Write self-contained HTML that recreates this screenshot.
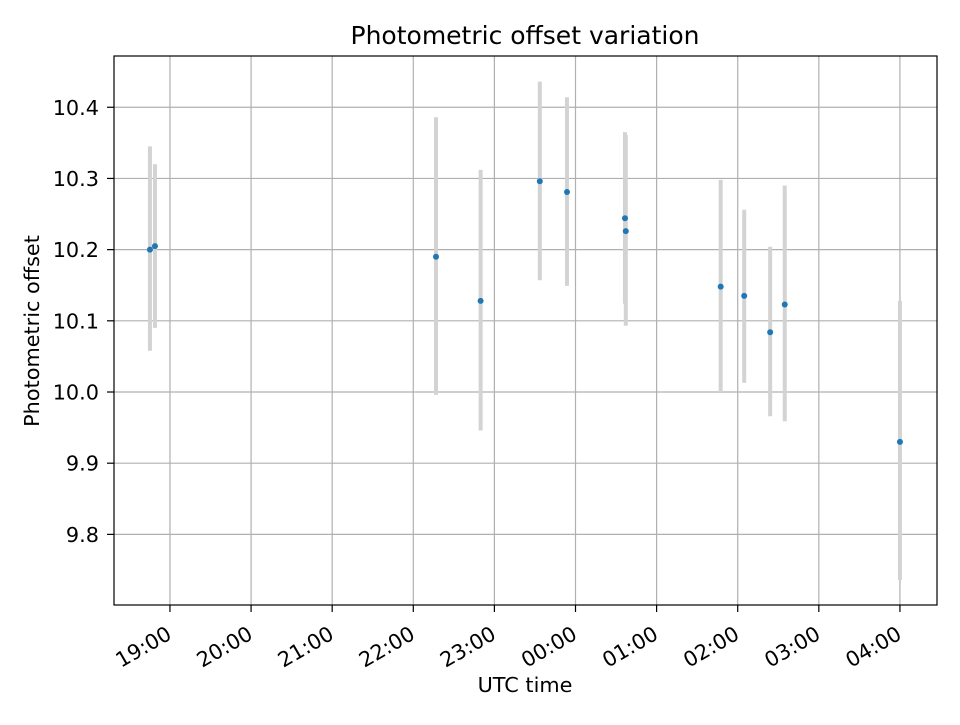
<!DOCTYPE html>
<html><head><meta charset="utf-8"><style>
body{margin:0;background:#fff;font-family:"Liberation Sans","DejaVu Sans",sans-serif;}
svg text{font-family:"DejaVu Sans","Liberation Sans",sans-serif;}
</style></head><body>
<svg id="chart" width="960" height="720" xmlns="http://www.w3.org/2000/svg">
<rect width="960" height="720" fill="#fff"/>
<text x="525" y="44" font-size="25" text-anchor="middle">Photometric offset variation</text>
<text x="525" y="692" font-size="20.8" text-anchor="middle">UTC time</text>
<text transform="translate(39,331) rotate(-90)" font-size="20.8" text-anchor="middle">Photometric offset</text>
<g id="grid"></g><g id="bars"></g><g id="pts"></g><g id="ticks"></g>
<rect x="114" y="56" width="823" height="549" fill="none" stroke="#000" stroke-width="1.2"/>
</svg>
<script>
// hours after 19:00 UTC
const times=[-0.247,-0.185,3.28,3.83,4.56,4.895,5.61,5.62,6.79,7.08,7.40,7.58,9.0];
const offsets=[10.200,10.205,10.190,10.128,10.296,10.281,10.244,10.226,10.148,10.135,10.084,10.123,9.930];
const errHigh=[10.345,10.320,10.386,10.312,10.436,10.414,10.365,10.361,10.298,10.256,10.204,10.290,10.128];
const errLow=[10.058,10.090,9.996,9.946,10.157,10.149,10.124,10.093,10.000,10.013,9.966,9.959,9.736];
const xTickHours=[0,1,2,3,4,5,6,7,8,9];
const xTickLabels=["19:00","20:00","21:00","22:00","23:00","00:00","01:00","02:00","03:00","04:00"];
const yTicks=[9.8,9.9,10.0,10.1,10.2,10.3,10.4];
const yTickLabels=["9.8","9.9","10.0","10.1","10.2","10.3","10.4"];
const L=114,R=937,T=56,B=605;
const X0=-0.69,X1=9.457,Y0=9.7008,Y1=10.472;
const sx=h=>L+(h-X0)/(X1-X0)*(R-L);
const sy=v=>B-(v-Y0)/(Y1-Y0)*(B-T);
const NS="http://www.w3.org/2000/svg";
function mk(tag,attrs,parent){const e=document.createElementNS(NS,tag);for(const k in attrs)e.setAttribute(k,attrs[k]);document.getElementById(parent).appendChild(e);return e;}
xTickHours.forEach((h,i)=>{
 const x=sx(h);
 const g=mk("line",{x1:x,x2:x,y1:T,y2:B,stroke:"#b0b0b0","stroke-width":1.2},"grid");
 
 
 const t=mk("line",{x1:x,x2:x,y1:B,y2:B+7,stroke:"#000","stroke-width":1.2},"ticks");
 
 
 const tx=mk("text",{transform:`translate(${x+3},${B+33}) rotate(-30)`,"font-size":"20.8","text-anchor":"end"},"ticks");
 tx.textContent=xTickLabels[i];
 
 
});
yTicks.forEach((v,i)=>{
 const y=sy(v);
 const g=mk("line",{x1:L,x2:R,y1:y,y2:y,stroke:"#b0b0b0","stroke-width":1.2},"grid");
 
 
 const t=mk("line",{x1:L-7,x2:L,y1:y,y2:y,stroke:"#000","stroke-width":1.2},"ticks");
 
 
 const tx=mk("text",{x:L-15,y:y+7.5,"font-size":"20.8","text-anchor":"end"},"ticks");
 tx.textContent=yTickLabels[i];
 
 
});
times.forEach((h,i)=>{
 const x=sx(h);
 const b=mk("line",{x1:x,x2:x,y1:sy(errHigh[i]),y2:sy(errLow[i]),stroke:"#d3d3d3","stroke-width":4},"bars");
 
 
 const p=mk("circle",{cx:x,cy:sy(offsets[i]),r:3,fill:"#1f77b4"},"pts");
 
 
});
</script>
</body></html>
